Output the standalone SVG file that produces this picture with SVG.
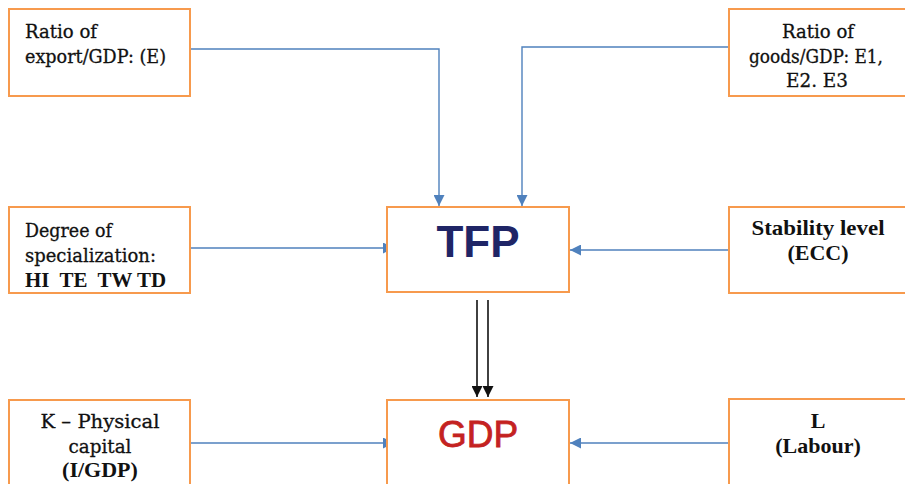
<svg xmlns="http://www.w3.org/2000/svg" width="905" height="484" viewBox="0 0 905 484">
  <style>
    .box { fill: #ffffff; stroke: #f79a4d; stroke-width: 2; }
    .lbl { font-family: "Liberation Serif", "DejaVu Serif", serif; font-size: 22px; fill: #111111; }
    .reg { font-family: "DejaVu Serif", "Liberation Serif", serif; font-size: 18px; stroke: #111111; stroke-width: 0.3; }
    .b { font-weight: bold; }
    .mid { text-anchor: middle; }
    .link { fill: none; stroke: #4f81bd; stroke-width: 1.4; }
    .down { fill: none; stroke: #111111; stroke-width: 1.6; }
    .big { font-family: "Liberation Sans", Arial, sans-serif; text-anchor: middle; }
  </style>
  <defs>
    <marker id="blueHead" viewBox="0 0 10 10" refX="10" refY="5" markerWidth="13" markerHeight="11" markerUnits="userSpaceOnUse" orient="auto">
      <path d="M0,0 L10,5 L0,10 z" fill="#4f81bd"/>
    </marker>
    <marker id="blackHead" viewBox="0 0 10 10" refX="10" refY="5" markerWidth="12" markerHeight="11" markerUnits="userSpaceOnUse" orient="auto">
      <path d="M0,0 L10,5 L0,10 z" fill="#111111"/>
    </marker>
  </defs>

  <rect width="905" height="484" fill="#ffffff"/>

  <!-- connectors -->
  <g id="connectors">
    <path class="link" d="M190,49 H439 V206" marker-end="url(#blueHead)"/>
    <path class="link" d="M729,47 H522 V206" marker-end="url(#blueHead)"/>
    <path class="link" d="M190,248 H394" marker-end="url(#blueHead)"/>
    <path class="link" d="M729,250 H570" marker-end="url(#blueHead)"/>
    <path class="link" d="M190,443 H394" marker-end="url(#blueHead)"/>
    <path class="link" d="M729,443 H570" marker-end="url(#blueHead)"/>
    <path class="down" d="M477,300 V397" marker-end="url(#blackHead)"/>
    <path class="down" d="M488,300 V397" marker-end="url(#blackHead)"/>
  </g>

  <g id="export-ratio">
    <rect class="box" x="9" y="9" width="181" height="87"/>
    <text class="lbl reg" x="25" y="38" textLength="72" lengthAdjust="spacingAndGlyphs">Ratio of</text>
    <text class="lbl reg" x="25" y="63" textLength="141" lengthAdjust="spacingAndGlyphs">export/GDP: (E)</text>
  </g>

  <g id="goods-ratio">
    <rect class="box" x="729" y="9" width="190" height="87"/>
    <text class="lbl reg mid" x="818" y="38" textLength="72" lengthAdjust="spacingAndGlyphs">Ratio of</text>
    <text class="lbl reg mid" x="816" y="63" textLength="134" lengthAdjust="spacingAndGlyphs">goods/GDP: E1,</text>
    <text class="lbl reg mid" x="817" y="87" textLength="62" lengthAdjust="spacingAndGlyphs">E2. E3</text>
  </g>

  <g id="specialization">
    <rect class="box" x="9" y="207" width="181" height="86"/>
    <text class="lbl reg" x="25" y="237" textLength="87" lengthAdjust="spacingAndGlyphs">Degree of</text>
    <text class="lbl reg" x="25" y="262" textLength="131" lengthAdjust="spacingAndGlyphs">specialization:</text>
    <text class="lbl b" x="25" y="287" xml:space="preserve" textLength="141" lengthAdjust="spacingAndGlyphs">HI  TE  TW TD</text>
  </g>

  <g id="tfp">
    <rect class="box" x="387" y="207" width="182" height="85"/>
    <text class="big b" x="478" y="257" font-size="44" fill="#1f2566">TFP</text>
  </g>

  <g id="stability">
    <rect class="box" x="729" y="207" width="190" height="86"/>
    <text class="lbl b mid" x="818" y="235" textLength="133" lengthAdjust="spacingAndGlyphs">Stability level</text>
    <text class="lbl b mid" x="818" y="260">(ECC)</text>
  </g>

  <g id="capital">
    <rect class="box" x="9" y="400" width="181" height="100"/>
    <text class="lbl reg mid" x="100" y="428" textLength="119" lengthAdjust="spacingAndGlyphs">K – Physical</text>
    <text class="lbl reg mid" x="100" y="453" textLength="63" lengthAdjust="spacingAndGlyphs">capital</text>
    <text class="lbl b mid" x="100" y="477">(I/GDP)</text>
  </g>

  <g id="gdp">
    <rect class="box" x="387" y="400" width="182" height="100"/>
    <text class="big" x="478" y="447" font-size="37" fill="#c42221" stroke="#c42221" stroke-width="0.8">GDP</text>
  </g>

  <g id="labour">
    <rect class="box" x="729" y="399" width="190" height="100"/>
    <text class="lbl b mid" x="818" y="428">L</text>
    <text class="lbl b mid" x="818" y="453">(Labour)</text>
  </g>
</svg>
